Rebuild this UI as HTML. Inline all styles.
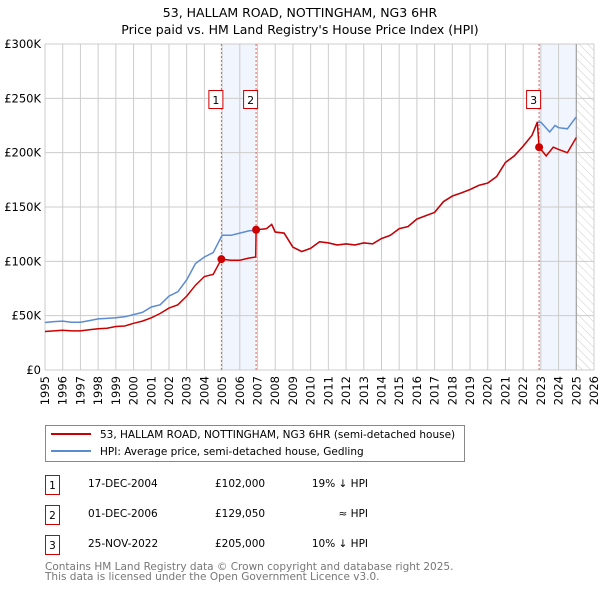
<!DOCTYPE html>
<html><head><meta charset="utf-8"><style>
html,body{margin:0;padding:0;background:#fff;width:600px;height:590px;overflow:hidden}
svg{display:block;font-family:"DejaVu Sans","Liberation Sans",sans-serif}
</style></head><body>
<svg id="chart" width="600" height="590" viewBox="0 0 600 590">
<defs>
<pattern id="hatch" width="6" height="6" patternUnits="userSpaceOnUse" patternTransform="rotate(-45)">
<line x1="0" y1="0" x2="0" y2="6" stroke="#ccc" stroke-width="1"/></pattern>
</defs>
<text x="300" y="17" text-anchor="middle" font-size="12.5">53, HALLAM ROAD, NOTTINGHAM, NG3 6HR</text>
<text x="300" y="34" text-anchor="middle" font-size="12.5">Price paid vs. HM Land Registry's House Price Index (HPI)</text>
<g id="plot"></g>
<g>
<rect x="45.5" y="425.5" width="419" height="36" fill="#fff" stroke="#888"/>
<line x1="51" y1="434" x2="91" y2="434" stroke="#cc0000" stroke-width="2"/>
<text x="100" y="438" font-size="10.5">53, HALLAM ROAD, NOTTINGHAM, NG3 6HR (semi-detached house)</text>
<line x1="51" y1="451" x2="91" y2="451" stroke="#5b8bd0" stroke-width="2"/>
<text x="100" y="455" font-size="10.5">HPI: Average price, semi-detached house, Gedling</text>
</g>
<g font-size="10.5">
<rect x="45.5" y="475.5" width="14" height="19" fill="#fff" stroke="#cc0000"/><text x="52.5" y="489" text-anchor="middle">1</text>
<text x="88" y="487">17-DEC-2004</text><text x="215" y="487">£102,000</text><text x="368" y="487" text-anchor="end">19% ↓ HPI</text>
<rect x="45.5" y="505.5" width="14" height="19" fill="#fff" stroke="#cc0000"/><text x="52.5" y="519" text-anchor="middle">2</text>
<text x="88" y="517">01-DEC-2006</text><text x="215" y="517">£129,050</text><text x="368" y="517" text-anchor="end">≈ HPI</text>
<rect x="45.5" y="535.5" width="14" height="19" fill="#fff" stroke="#cc0000"/><text x="52.5" y="549" text-anchor="middle">3</text>
<text x="88" y="547">25-NOV-2022</text><text x="215" y="547">£205,000</text><text x="368" y="547" text-anchor="end">10% ↓ HPI</text>
</g>
<text x="45" y="570" font-size="10.5" fill="#777">Contains HM Land Registry data © Crown copyright and database right 2025.</text>
<text x="45" y="580" font-size="10.5" fill="#777">This data is licensed under the Open Government Licence v3.0.</text>
</svg>
<script>
const hpiDates=[1995,1995.5,1996,1996.5,1997,1997.5,1998,1998.5,1999,1999.5,2000,2000.5,2001,2001.5,2002,2002.5,2003,2003.5,2004,2004.5,2005,2005.5,2006,2006.5,2007,2007.5,2007.8,2008,2008.5,2009,2009.5,2010,2010.5,2011,2011.5,2012,2012.5,2013,2013.5,2014,2014.5,2015,2015.5,2016,2016.5,2017,2017.5,2018,2018.5,2019,2019.5,2020,2020.5,2021,2021.5,2022,2022.5,2022.8,2023,2023.5,2023.8,2024,2024.5,2025];
const hpiValues=[43.7,44.5,45,44,44,45.5,47,47.5,48,49,51,53,58,60,68,72,83,98,104,108,124,124,126,128,129,130,134,127,126,113,109,112,118,117,115,116,115,117,116,121,124,130,132,139,142,145,155,160,163,166,170,172,178,191,197,206,216,228,228,219,225,223,222,233];
const priceDates=[1995,1996,1996.5,1997,1997.5,1998,1998.5,1999,1999.5,2000,2000.5,2001,2001.5,2002,2002.5,2003,2003.5,2004,2004.5,2004.96,2005.5,2006,2006.5,2006.9,2006.92,2007.5,2007.8,2008,2008.5,2009,2009.5,2010,2010.5,2011,2011.5,2012,2012.5,2013,2013.5,2014,2014.5,2015,2015.5,2016,2016.5,2017,2017.5,2018,2018.5,2019,2019.5,2020,2020.5,2021,2021.5,2022,2022.5,2022.8,2022.9,2023.3,2023.7,2024,2024.5,2025];
const priceValues=[35.4,36.5,36,36,37,38,38.5,40,40.5,43,45,48,52,57,60,68,78,86,88,102,101,101,103,104,129,130,134,127,126,113,109,112,118,117,115,116,115,117,116,121,124,130,132,139,142,145,155,160,163,166,170,172,178,191,197,206,216,228,205,197,205,203,200,214];
const saleDates=[2004.96,2006.92,2022.9];
const saleValues=[102,129.05,205];
const saleLabels=["1","2","3"];
const yTicks=[0,50,100,150,200,250,300];
const yTickLabels=["£0","£50K","£100K","£150K","£200K","£250K","£300K"];
const xTicks=[1995,1996,1997,1998,1999,2000,2001,2002,2003,2004,2005,2006,2007,2008,2009,2010,2011,2012,2013,2014,2015,2016,2017,2018,2019,2020,2021,2022,2023,2024,2025,2026];

const L=45,R=594,T=44,B=370,X0=1995,X1=2026;
const xs=d=>L+(d-X0)/(X1-X0)*(R-L);
const ys=v=>B-v/300*(B-T);
const NS="http://www.w3.org/2000/svg";
const g=document.getElementById('plot');
function mk(t,a,p){const e=document.createElementNS(NS,t);for(const k in a)e.setAttribute(k,a[k]);(p||g).appendChild(e);return e;}
let e;
e=mk('rect',{x:xs(saleDates[0]),y:T,width:xs(saleDates[1])-xs(saleDates[0]),height:B-T,fill:'#eef3fc',opacity:0.8});


e=mk('rect',{x:xs(saleDates[2]),y:T,width:xs(2025)-xs(saleDates[2]),height:B-T,fill:'#eef3fc',opacity:0.8});


e=mk('rect',{x:xs(2025),y:T,width:R-xs(2025),height:B-T,fill:'url(#hatch)'});


xTicks.forEach((d,i)=>{
 e=mk('line',{x1:xs(d),x2:xs(d),y1:T,y2:B,stroke:'#ccc','stroke-width':1});
 
 
 e=mk('text',{x:0,y:0,'font-size':11.5,'text-anchor':'end',transform:`translate(${xs(d)+4},${B+6}) rotate(-90)`});
 e.textContent=d;
 
 
});
yTicks.forEach((v,i)=>{
 e=mk('line',{x1:L,x2:R,y1:ys(v),y2:ys(v),stroke:'#ccc','stroke-width':1});
 
 
 e=mk('text',{x:L-4,y:ys(v)+4,'font-size':11.5,'text-anchor':'end'});
 e.textContent=yTickLabels[i];
 
 
});
e=mk('line',{x1:xs(2025),x2:xs(2025),y1:T,y2:B,stroke:'#999','stroke-width':1});


saleDates.forEach((d,i)=>{
 e=mk('line',{x1:xs(d),x2:xs(d),y1:T,y2:B,stroke:'#e06060','stroke-width':1,'stroke-dasharray':'2,2'});
 
 
});
const pts=(ds,vs)=>ds.map((d,i)=>xs(d).toFixed(1)+','+ys(vs[i]).toFixed(1)).join(' ');
e=mk('polyline',{points:pts(hpiDates,hpiValues),fill:'none',stroke:'#5b8bd0','stroke-width':1.5});


e=mk('polyline',{points:pts(priceDates,priceValues),fill:'none',stroke:'#cc0000','stroke-width':1.5});


saleDates.forEach((d,i)=>{
 e=mk('circle',{cx:xs(d),cy:ys(saleValues[i]),r:4,fill:'#cc0000'});
 
 
 e=mk('rect',{x:xs(d)-12.5,y:90.5,width:14,height:18,fill:'#fff',stroke:'#cc0000'});
 
 
 e=mk('text',{x:xs(d)-5.5,y:104,'font-size':11,'text-anchor':'middle'});
 e.textContent=saleLabels[i];
 
 
});
</script>
</body></html>
